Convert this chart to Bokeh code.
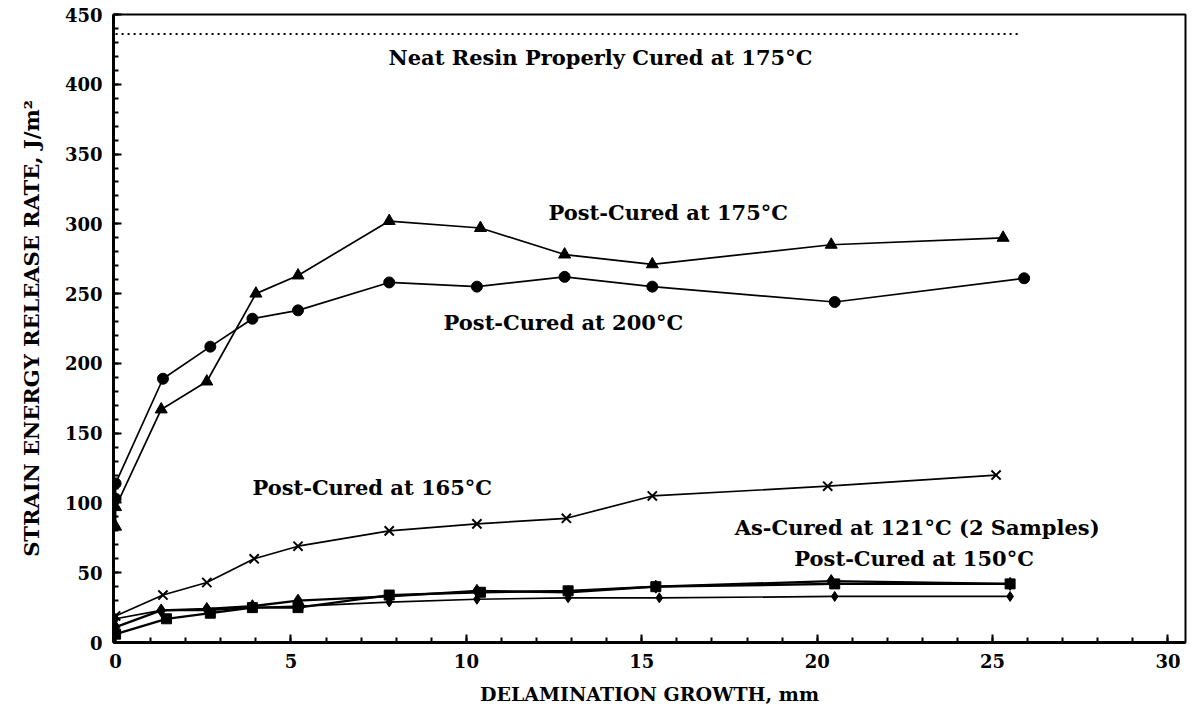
from bokeh.plotting import figure
from bokeh.models import Range1d, Label, SingleIntervalTicker
from bokeh.embed import file_html
from bokeh.resources import INLINE

# ---- data ----
neat_x = [0, 25.8]
neat_y = [436, 436]

pc175_x = [0, 0, 1.3, 2.6, 4.0, 5.2, 7.8, 10.4, 12.8, 15.3, 20.4, 25.3]
pc175_y = [83, 97, 167, 187, 250, 263, 302, 297, 278, 271, 285, 290]

pc200_x = [0, 0, 1.35, 2.7, 3.9, 5.2, 7.8, 10.3, 12.8, 15.3, 20.5, 25.9]
pc200_y = [103, 114, 189, 212, 232, 238, 258, 255, 262, 255, 244, 261]

pc165_x = [0, 1.35, 2.6, 3.95, 5.2, 7.8, 10.3, 12.85, 15.3, 20.3, 25.1]
pc165_y = [19, 34, 43, 60, 69, 80, 85, 89, 105, 112, 120]

ac121a_x = [0, 1.45, 2.7, 3.9, 5.2, 7.8, 10.4, 12.9, 15.4, 20.5, 25.5]
ac121a_y = [6, 17, 21, 25, 25, 34, 36, 37, 40, 42, 42]

ac121b_x = [0, 1.3, 2.6, 3.9, 5.2, 7.8, 10.3, 12.9, 15.4, 20.4, 25.5]
ac121b_y = [11, 23, 24, 26, 30, 33, 37, 36, 40, 44, 42]

pc150_x = [0, 1.3, 2.65, 3.9, 5.3, 7.8, 10.3, 12.9, 15.5, 20.5, 25.5]
pc150_y = [17, 23, 23, 25, 26, 29, 31, 32, 32, 33, 33]

x_label = "DELAMINATION GROWTH, mm"
y_label = "STRAIN ENERGY RELEASE RATE, J/m²"
annotations = [
    "Neat Resin Properly Cured at 175°C",
    "Post-Cured at 175°C",
    "Post-Cured at 200°C",
    "Post-Cured at 165°C",
    "As-Cured at 121°C (2 Samples)",
    "Post-Cured at 150°C",
]

FONT = "DejaVu Serif"

p = figure(width=1188, height=709, output_backend="svg", toolbar_location=None,
           x_range=Range1d(-0.06, 30.5), y_range=Range1d(0, 450),
           min_border_left=113, min_border_top=14, min_border_right=3,
           min_border_bottom=67)
p.background_fill_color = "white"
p.border_fill_color = "white"
p.grid.visible = False
p.outline_line_color = "black"
p.outline_line_width = 2

# axes
p.xaxis.ticker = SingleIntervalTicker(interval=5, num_minor_ticks=5)
p.yaxis.ticker = SingleIntervalTicker(interval=50, num_minor_ticks=5)
for ax in (p.xaxis[0], p.yaxis[0]):
    ax.axis_line_width = 3
    ax.axis_line_color = "black"
    ax.major_tick_in = 8
    ax.major_tick_out = 0
    ax.minor_tick_in = 5
    ax.minor_tick_out = 0
    ax.major_tick_line_width = 2
    ax.minor_tick_line_width = 2
    ax.major_label_text_font = FONT
    ax.major_label_text_font_style = "bold"
    ax.major_label_text_font_size = "18px"
    ax.major_label_text_color = "black"
    ax.axis_label_text_font = FONT
    ax.axis_label_text_font_style = "bold"
    ax.axis_label_text_color = "black"
p.xaxis.axis_label = x_label
p.yaxis.axis_label = y_label
p.xaxis.axis_label_text_font_size = "19px"
p.yaxis.axis_label_text_font_size = "21px"
p.yaxis.major_label_standoff = 11
p.xaxis.major_label_standoff = 11
p.yaxis.axis_label_standoff = 18
p.xaxis.axis_label_standoff = 12

# neat resin dotted line
p.line(neat_x, neat_y, line_color="black", line_width=2, line_dash="2 4")

LW = 1.7
p.line(pc175_x, pc175_y, line_color="black", line_width=LW)
p.scatter(pc175_x, pc175_y, marker="triangle", size=12, color="black")

p.line(pc200_x, pc200_y, line_color="black", line_width=LW)
p.scatter(pc200_x, pc200_y, marker="circle", size=11, color="black")

p.line(pc165_x, pc165_y, line_color="black", line_width=LW)
p.scatter(pc165_x, pc165_y, marker="x", size=13, line_color="black", line_width=2)

p.line(ac121a_x, ac121a_y, line_color="black", line_width=LW + 0.6)
p.scatter(ac121a_x, ac121a_y, marker="square", size=10, color="black")

p.line(ac121b_x, ac121b_y, line_color="black", line_width=LW + 0.6)
p.scatter(ac121b_x, ac121b_y, marker="diamond", size=13, color="black")

p.line(pc150_x, pc150_y, line_color="black", line_width=LW)
p.scatter(pc150_x, pc150_y, marker="diamond", size=10, color="black")

label_pos = [(7.78, 419), (12.34, 308), (9.35, 229), (3.9, 111), (17.65, 82.5), (19.35, 60)]
for txt, (lx, ly) in zip(annotations, label_pos):
    p.add_layout(Label(x=lx, y=ly, text=txt, text_font=FONT, text_font_style="bold",
                       text_font_size="21px", text_color="black", text_baseline="middle"))

open("out.html", "w").write(file_html(p, INLINE))
